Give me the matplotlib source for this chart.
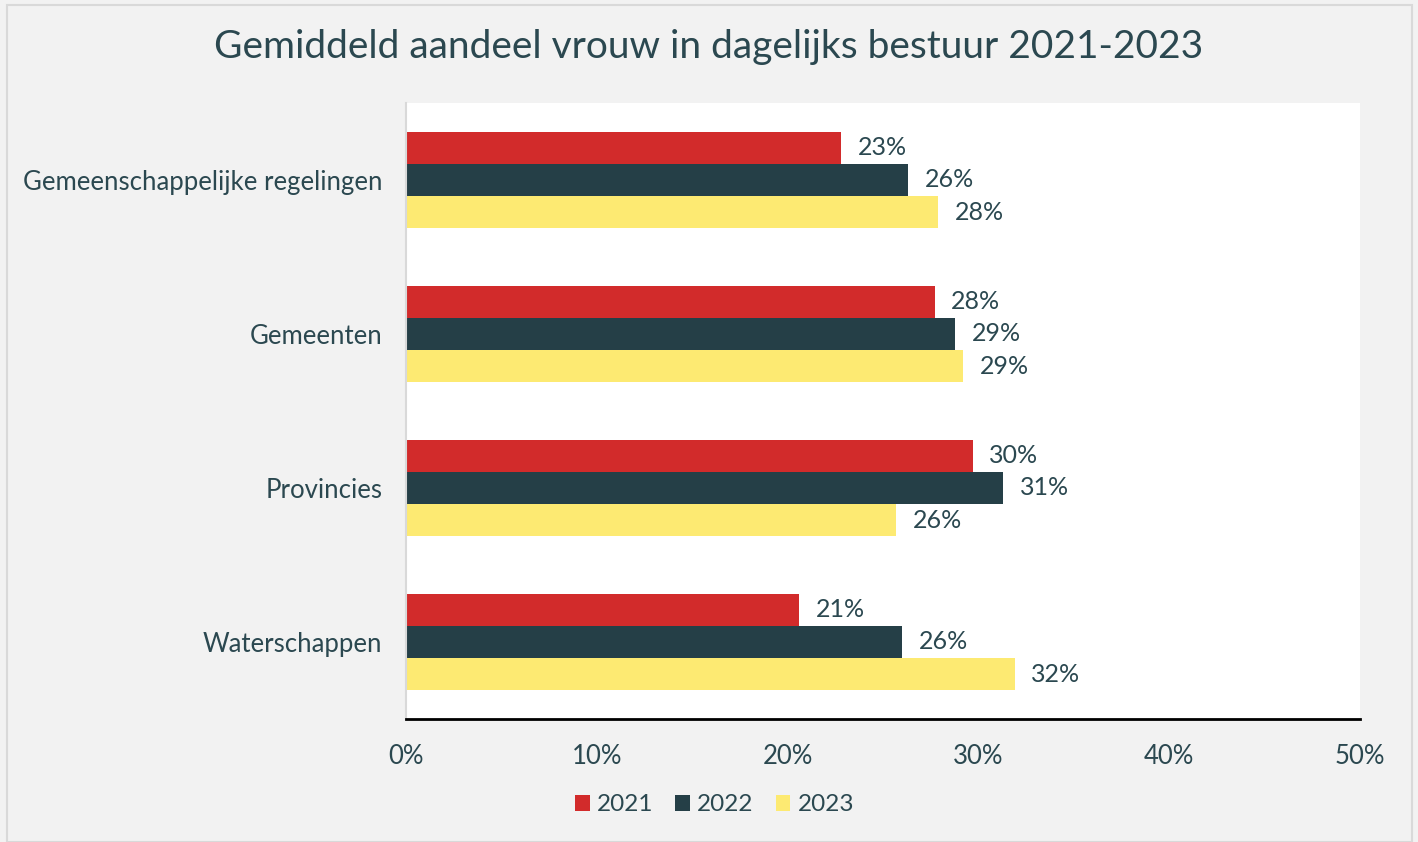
import matplotlib.pyplot as plt
import numpy as np
from matplotlib.ticker import PercentFormatter

plt.rcParams['font.family'] = ['Lato', 'DejaVu Sans']

categories = ["Gemeenschappelijke regelingen", "Gemeenten", "Provincies", "Waterschappen"]
years = ["2021", "2022", "2023"]
share_2021 = [22.8, 27.7, 29.7, 20.6]
share_2022 = [26.3, 28.8, 31.3, 26.0]
share_2023 = [27.9, 29.2, 25.7, 31.9]
series = [share_2021, share_2022, share_2023]
colors = ["#d22b2b", "#253f47", "#fdea72"]
text_color = "#2b4850"

fig = plt.figure(figsize=(14.18, 8.42), dpi=100, facecolor="#f2f2f2")
ax = fig.add_axes([0.2863, 0.1461, 0.6728, 0.7316])
ax.set_facecolor("white")

# outer frame of the chart area
fig.patches.append(plt.Rectangle((0.005, 0.0), 0.991, 0.994, transform=fig.transFigure,
                                 fill=False, edgecolor="#d9d9d9", linewidth=1.5))

y = np.arange(len(categories))
height = 0.208
for i, (vals, yr) in enumerate(zip(series, years)):
    rects = ax.barh(y + (i - 1) * height, vals, height, color=colors[i], label=yr)
    ax.bar_label(rects, labels=[f"{v:.0f}%" for v in vals], padding=12,
                 fontsize=18, color=text_color)

ax.set_ylim(3.5, -0.5)
ax.set_xlim(0, 50)
ax.set_yticks(y, categories)
ax.xaxis.set_major_formatter(PercentFormatter(decimals=0))
ax.set_xticks(np.arange(0, 51, 10))
ax.tick_params(axis='both', length=0, labelsize=18.5, colors=text_color)
ax.tick_params(axis='x', pad=18)
ax.tick_params(axis='y', pad=17)

for s in ["top", "right"]:
    ax.spines[s].set_visible(False)
ax.spines["left"].set_color("#d9d9d9")
ax.spines["left"].set_linewidth(1.5)
ax.spines["bottom"].set_color("black")
ax.spines["bottom"].set_linewidth(2)

fig.suptitle("Gemiddeld aandeel vrouw in dagelijks bestuur 2021-2023", y=0.965,
             fontsize=28, color=text_color)

fig.legend(loc="center", bbox_to_anchor=(0.504, 0.044), ncols=3, frameon=False,
           fontsize=17.5, labelcolor=text_color, handlelength=0.6, handleheight=0.6,
           handletextpad=0.3, columnspacing=0.9)

plt.savefig("out.png", dpi=100, facecolor=fig.get_facecolor())
